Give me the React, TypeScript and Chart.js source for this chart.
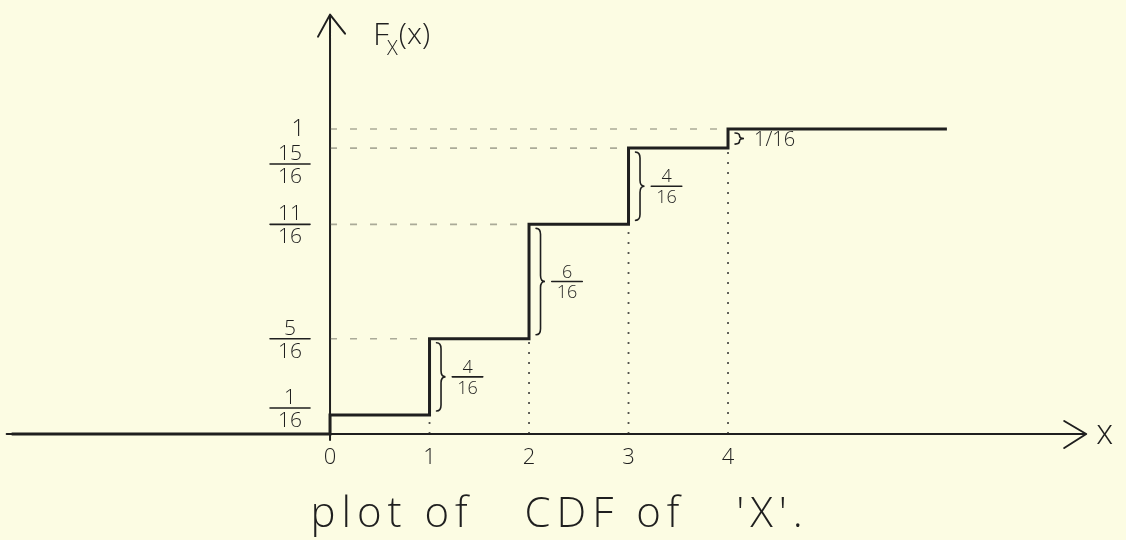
import { useEffect, useRef } from "react";
import { Chart, registerables } from "chart.js";

Chart.register(...registerables);

// Values taken by X and the cumulative probabilities F(x), kept as numerators over 16
const xValues = [0, 1, 2, 3, 4];
const cdfNumerators = [1, 5, 11, 15, 16];
const cdfDenominator = 16;
const xTickLabels = ["0", "1", "2", "3", "4"];

// How far the drawn step function runs to the left of 0 and to the right of 4
const stepStartX = -3.2;
const stepEndX = 6.2;

const cdfValues = cdfNumerators.map((n) => n / cdfDenominator);

const INK = "#1f1f1f";
const FONT = "'Open Sans', 'DejaVu Sans', sans-serif";

function fractionText(n: number): [string, string] {
  return n === cdfDenominator ? ["1", ""] : [String(n), String(cdfDenominator)];
}

// Stacked fraction: numerator, bar, denominator, centred on (cx, barY)
function drawFraction(
  ctx: CanvasRenderingContext2D,
  num: string,
  den: string,
  cx: number,
  barY: number,
  size: number,
  extra: number
) {
  ctx.font = `300 ${size}px ${FONT}`;
  ctx.textAlign = "center";
  ctx.textBaseline = "alphabetic";
  ctx.fillText(num, cx, barY - 4);
  ctx.fillText(den, cx, barY + 4 + size * 0.72);
  const w = Math.max(ctx.measureText(num).width, ctx.measureText(den).width) + extra;
  ctx.lineWidth = 1.6;
  ctx.beginPath();
  ctx.moveTo(cx - w / 2, barY);
  ctx.lineTo(cx + w / 2, barY);
  ctx.stroke();
}

// Curly brace "}" spanning top..bottom, opening to the left at x0
function drawBrace(ctx: CanvasRenderingContext2D, x0: number, top: number, bottom: number, w: number) {
  const mid = (top + bottom) / 2;
  const r = Math.min(6, (bottom - top) / 4);
  const xm = x0 + w / 2;
  ctx.lineWidth = 1.6;
  ctx.beginPath();
  ctx.moveTo(x0, top);
  ctx.quadraticCurveTo(xm, top, xm, top + r);
  ctx.lineTo(xm, mid - r);
  ctx.quadraticCurveTo(xm, mid, x0 + w, mid);
  ctx.quadraticCurveTo(xm, mid, xm, mid + r);
  ctx.lineTo(xm, bottom - r);
  ctx.quadraticCurveTo(xm, bottom, x0, bottom);
  ctx.stroke();
}

const sketchPlugin = {
  id: "sketchAxes",
  beforeDatasetsDraw(chart: any) {
    const { ctx } = chart;
    const x = chart.scales.x;
    const y = chart.scales.y;
    const ox = x.getPixelForValue(0);
    const oy = y.getPixelForValue(0);
    ctx.save();
    ctx.strokeStyle = INK;
    ctx.lineWidth = 2;
    ctx.lineCap = "round";
    ctx.lineJoin = "round";

    // horizontal axis with open arrowhead
    const xl = x.getPixelForValue(-3.25);
    const xr = x.getPixelForValue(7.6);
    ctx.beginPath();
    ctx.moveTo(xl, oy);
    ctx.lineTo(xr, oy);
    ctx.moveTo(xr - 22, oy - 13);
    ctx.lineTo(xr, oy);
    ctx.lineTo(xr - 22, oy + 14);
    ctx.stroke();

    // vertical axis with open arrowhead
    const yb = y.getPixelForValue(-0.02);
    const yt = y.getPixelForValue(1.375);
    ctx.beginPath();
    ctx.moveTo(ox, yb);
    ctx.lineTo(ox, yt);
    ctx.moveTo(ox - 12, yt + 22);
    ctx.lineTo(ox, yt);
    ctx.lineTo(ox + 15, yt + 19);
    ctx.stroke();
    ctx.restore();
  },
  afterDatasetsDraw(chart: any) {
    const { ctx } = chart;
    const x = chart.scales.x;
    const y = chart.scales.y;
    const ox = x.getPixelForValue(0);
    const oy = y.getPixelForValue(0);
    ctx.save();
    ctx.fillStyle = INK;
    ctx.strokeStyle = INK;
    ctx.lineCap = "round";

    // y tick labels as fractions, nudged apart where they would collide
    const ySize = 21;
    const half = 20;
    const labels = cdfNumerators
      .map((n, i) => ({ n, py: y.getPixelForValue(cdfValues[i]) }))
      .sort((a, b) => a.py - b.py);
    let prevBottom = -Infinity;
    const placed = labels.map((l) => {
      const single = l.n === cdfDenominator;
      const h = single ? 11 : half;
      let cy = Math.max(l.py, prevBottom + 4 + h);
      prevBottom = cy + h;
      return { ...l, cy, h, single };
    });
    for (let i = placed.length - 1, limit = oy - 6; i >= 0; i--) {
      const p = placed[i];
      if (p.cy + p.h > limit) p.cy = limit - p.h;
      limit = p.cy - p.h - 4;
    }
    const labelX = ox - 40;
    placed.forEach((p) => {
      const [num, den] = fractionText(p.n);
      if (p.single) {
        ctx.font = `300 ${ySize + 2}px ${FONT}`;
        ctx.textAlign = "center";
        ctx.textBaseline = "middle";
        ctx.fillText(num, labelX + 8, p.cy);
      } else {
        drawFraction(ctx, num, den, labelX, p.cy, ySize, 16);
      }
    });

    // braces marking each jump with its probability
    for (let i = 1; i < xValues.length; i++) {
      const px = x.getPixelForValue(xValues[i]);
      const top = y.getPixelForValue(cdfValues[i]);
      const bottom = y.getPixelForValue(cdfValues[i - 1]);
      drawBrace(ctx, px + 7, top + 4, bottom - 4, 9);
      const jump = cdfNumerators[i] - cdfNumerators[i - 1];
      const mid = (top + bottom) / 2;
      if (bottom - top < 40) {
        ctx.font = `300 20px ${FONT}`;
        ctx.textAlign = "left";
        ctx.textBaseline = "middle";
        ctx.fillText(`${jump}/${cdfDenominator}`, px + 26, mid + 2);
      } else {
        drawFraction(ctx, String(jump), String(cdfDenominator), px + 38, mid, 18, 10);
      }
    }

    // x tick labels
    ctx.font = `300 22px ${FONT}`;
    ctx.textAlign = "center";
    ctx.textBaseline = "middle";
    xValues.forEach((v, i) => {
      ctx.fillText(xTickLabels[i], x.getPixelForValue(v), oy + 24);
    });

    // axis titles
    ctx.textAlign = "left";
    ctx.textBaseline = "alphabetic";
    ctx.font = `300 34px ${FONT}`;
    ctx.fillText("x", x.getPixelForValue(7.6) + 10, oy + 10);
    const tx = ox + 43;
    ctx.font = `300 32px ${FONT}`;
    ctx.fillText("F", tx, 45);
    const fw = ctx.measureText("F").width;
    ctx.font = `300 20px ${FONT}`;
    ctx.fillText("X", tx + fw - 2, 55);
    const sw = ctx.measureText("X").width;
    ctx.font = `300 30px ${FONT}`;
    ctx.fillText("(x)", tx + fw + sw - 1, 44);

    // caption, written loosely spaced
    ctx.font = `300 42px ${FONT}`;
    (ctx as any).letterSpacing = "6px";
    ctx.textAlign = "center";
    ctx.fillText("plot of   CDF of   'X'.", chart.width * 0.497, chart.height - 13);
    (ctx as any).letterSpacing = "0px";
    ctx.restore();
  },
};

export default function App() {
  const canvasRef = useRef<HTMLCanvasElement | null>(null);

  useEffect(() => {
    const canvas = canvasRef.current;
    if (!canvas) return;

    const stepPoints = [
      { x: stepStartX, y: 0 },
      ...xValues.map((v, i) => ({ x: v, y: cdfValues[i] })),
      { x: stepEndX, y: cdfValues[cdfValues.length - 1] },
    ];

    // dashed level lines from the vertical axis to each jump
    const levelGuides = xValues.slice(1).map((v, k) => ({
      data: [
        { x: 0, y: cdfValues[k + 1] },
        { x: v, y: cdfValues[k + 1] },
      ],
      borderColor: "rgba(70,70,60,0.45)",
      borderWidth: 1.6,
      borderDash: [7, 13],
      pointRadius: 0,
      order: 2,
    }));

    // dotted drop lines from each jump down to the horizontal axis
    const dropGuides = xValues.slice(1).map((v, k) => ({
      data: [
        { x: v, y: 0 },
        { x: v, y: cdfValues[k] },
      ],
      borderColor: "rgba(40,40,40,0.8)",
      borderWidth: 1.8,
      borderDash: [2, 8],
      pointRadius: 0,
      order: 2,
    }));

    const chart = new Chart(canvas, {
      type: "line",
      data: {
        datasets: [
          {
            label: "F_X(x)",
            data: stepPoints,
            stepped: "before",
            borderColor: INK,
            borderWidth: 3,
            pointRadius: 0,
            fill: false,
            order: 0,
          },
          ...levelGuides,
          ...dropGuides,
        ] as any,
      },
      options: {
        responsive: false,
        animation: false,
        layout: { padding: 0, autoPadding: false },
        scales: {
          x: { type: "linear", min: -3.317, max: 8.0, display: false },
          y: { type: "linear", min: -0.3475, max: 1.423, display: false },
        },
        plugins: {
          legend: { display: false },
          tooltip: { enabled: false },
          title: { display: false },
        },
        events: [],
      } as any,
      plugins: [sketchPlugin],
    });

    return () => chart.destroy();
  }, []);

  return (
    <div
      style={{
        position: "fixed",
        left: 0,
        top: 0,
        width: 1126,
        height: 540,
        background: "#fcfce3",
      }}
    >
      <canvas ref={canvasRef} width={1126} height={540} style={{ display: "block" }} />
    </div>
  );
}
